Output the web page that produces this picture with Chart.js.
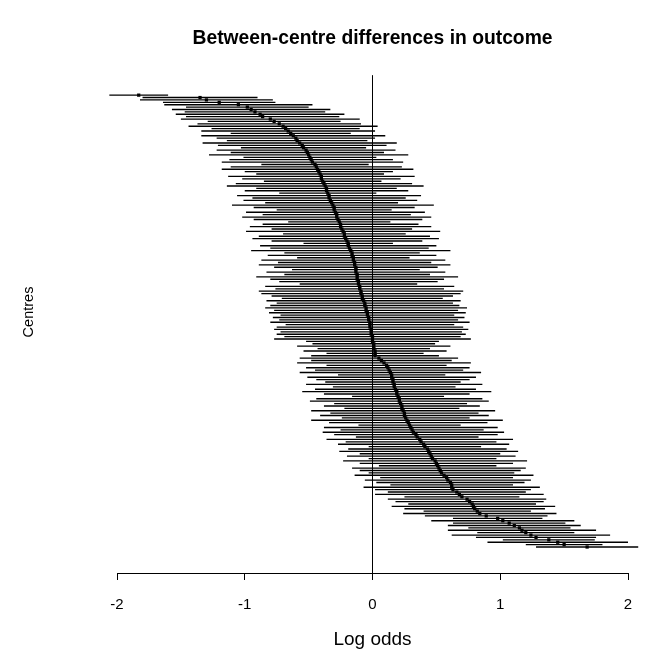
<!DOCTYPE html>
<html><head><meta charset="utf-8">
<script src="https://cdn.jsdelivr.net/npm/chart.js@4.4.1/dist/chart.umd.min.js"></script>
<style>html,body{margin:0;padding:0;background:#fff}</style>
</head><body>
<canvas id="c" width="653" height="654"></canvas>
<script>
// Point estimates (log odds) of each centre, ordered from top row to bottom row
const estimates = [
-1.83,-1.35,-1.30,-1.20,-1.05,-0.98,-0.95,-0.92,-0.88,-0.86,
-0.80,-0.77,-0.73,-0.70,-0.68,-0.66,-0.64,-0.62,-0.60,-0.59,
-0.57,-0.55,-0.54,-0.52,-0.51,-0.50,-0.49,-0.48,-0.47,-0.45,
-0.44,-0.43,-0.42,-0.41,-0.40,-0.40,-0.39,-0.38,-0.37,-0.36,
-0.36,-0.35,-0.34,-0.34,-0.33,-0.32,-0.31,-0.30,-0.30,-0.29,
-0.28,-0.28,-0.27,-0.26,-0.25,-0.25,-0.24,-0.23,-0.22,-0.22,
-0.21,-0.20,-0.19,-0.19,-0.18,-0.17,-0.16,-0.16,-0.15,-0.15,
-0.14,-0.14,-0.13,-0.13,-0.13,-0.12,-0.12,-0.12,-0.11,-0.11,
-0.10,-0.10,-0.09,-0.09,-0.08,-0.08,-0.07,-0.06,-0.06,-0.05,
-0.05,-0.04,-0.04,-0.03,-0.03,-0.02,-0.02,-0.02,-0.01,-0.01,
-0.01,0.00,0.00,0.00,0.01,0.01,0.01,0.02,0.02,0.02,
0.05,0.07,0.09,0.11,0.12,0.13,0.14,0.15,0.15,0.16,
0.16,0.17,0.17,0.18,0.19,0.19,0.20,0.21,0.21,0.22,
0.23,0.23,0.24,0.25,0.25,0.26,0.27,0.28,0.29,0.30,
0.31,0.32,0.34,0.35,0.37,0.38,0.40,0.41,0.43,0.44,
0.45,0.46,0.47,0.49,0.50,0.51,0.52,0.53,0.54,0.56,
0.58,0.59,0.61,0.62,0.62,0.63,0.66,0.68,0.70,0.74,
0.76,0.78,0.79,0.80,0.82,0.84,0.89,0.98,1.02,1.07,
1.11,1.15,1.17,1.20,1.24,1.28,1.38,1.45,1.50,1.68
];
// Half-length of each centre's interval (log odds)
const halfWidths = [
0.23,0.45,0.52,0.44,0.58,0.48,0.62,0.55,0.66,0.60,
0.70,0.52,0.64,0.74,0.58,0.68,0.47,0.72,0.62,0.55,
0.76,0.66,0.49,0.70,0.60,0.78,0.52,0.64,0.71,0.42,
0.67,0.75,0.58,0.50,0.73,0.62,0.46,0.69,0.77,0.55,
0.64,0.38,0.72,0.60,0.68,0.52,0.79,0.63,0.45,0.70,
0.58,0.74,0.66,0.40,0.61,0.71,0.55,0.76,0.48,0.67,
0.73,0.59,0.35,0.69,0.62,0.78,0.53,0.66,0.44,0.72,
0.60,0.75,0.64,0.50,0.70,0.57,0.79,0.68,0.62,0.46,
0.74,0.66,0.80,0.78,0.71,0.63,0.76,0.69,0.74,0.79,
0.72,0.77,0.68,0.75,0.70,0.78,0.66,0.73,0.76,0.71,
0.74,0.69,0.77,0.52,0.48,0.60,0.44,0.56,0.38,0.50,
0.62,0.55,0.68,0.47,0.64,0.58,0.71,0.42,0.66,0.60,
0.53,0.69,0.48,0.63,0.74,0.57,0.36,0.65,0.70,0.52,
0.61,0.45,0.72,0.58,0.66,0.50,0.75,0.62,0.40,0.68,
0.56,0.71,0.64,0.48,0.73,0.59,0.67,0.44,0.62,0.70,
0.55,0.66,0.50,0.72,0.60,0.46,0.68,0.63,0.57,0.70,
0.52,0.65,0.58,0.48,0.69,0.61,0.54,0.66,0.45,0.62,
0.58,0.50,0.64,0.55,0.42,0.60,0.48,0.35,0.56,0.44,
0.52,0.40,0.58,0.38,0.62,0.47,0.36,0.55,0.30,0.40
];
const xTickValues = [-2, -1, 0, 1, 2];
const titleText = 'Between-centre differences in outcome';
const xTitle = 'Log odds';
const yTitle = 'Centres';

const rows = estimates.map((_, i) => i);
// one line dataset: each interval is a segment, separated by a gap (NaN point)
const intervalData = [];
rows.forEach(i => {
  intervalData.push({ x: estimates[i] - halfWidths[i], y: i });
  intervalData.push({ x: estimates[i] + halfWidths[i], y: i });
  intervalData.push({ x: NaN, y: i });
});
const pointData = rows.map(i => ({ x: estimates[i], y: i }));

const FONT = 'Liberation Sans, Arial, sans-serif';

new Chart(document.getElementById('c'), {
  type: 'scatter',
  data: {
    datasets: [
      { data: intervalData, showLine: true, spanGaps: false, borderColor: '#000', borderWidth: 1.35, pointRadius: 0, pointHoverRadius: 0, fill: false, clip: false },
      { data: pointData, pointStyle: 'rect', pointRadius: 2.3, backgroundColor: '#000', borderWidth: 0, showLine: false, clip: false }
    ]
  },
  options: {
    responsive: false,
    animation: false,
    layout: { padding: { left: 0, right: 25, top: 0, bottom: 0 } },
    plugins: {
      legend: { display: false },
      tooltip: { enabled: false },
      title: {
        display: true, text: titleText, fullSize: false, color: '#000',
        font: { family: FONT, size: 19.3, weight: 'bold' },
        padding: { top: 27, bottom: 25 }
      }
    },
    scales: {
      x: {
        type: 'linear', position: 'bottom', min: -2, max: 2,
        afterBuildTicks: s => { s.ticks = xTickValues.map(v => ({ value: v })); },
        afterFit: s => { s.height = 81; },
        ticks: { color: '#000', padding: 16, font: { family: FONT, size: 15 }, callback: v => String(v) },
        grid: {
          display: true, drawOnChartArea: true, drawTicks: true, tickLength: 7, lineWidth: 1,
          color: ctx => (ctx.tick && ctx.tick.value === 0) ? '#000' : 'rgba(0,0,0,0)',
          tickColor: '#000'
        },
        border: { display: true, color: '#000', width: 1 },
        title: { display: true, text: xTitle, color: '#000', font: { family: FONT, size: 19 }, padding: { top: 0, bottom: 3 } }
      },
      y: {
        type: 'linear', position: 'left', reverse: true, min: -8.36, max: 199.87, offset: false,
        afterFit: s => { s.width = 117; },
        ticks: { display: false },
        grid: { display: false },
        border: { display: false },
        title: { display: true, text: '      ' + yTitle, color: '#000', font: { family: FONT, size: 14.5 }, padding: { top: 20, bottom: 0 } }
      }
    }
  }
});
</script>
</body></html>
